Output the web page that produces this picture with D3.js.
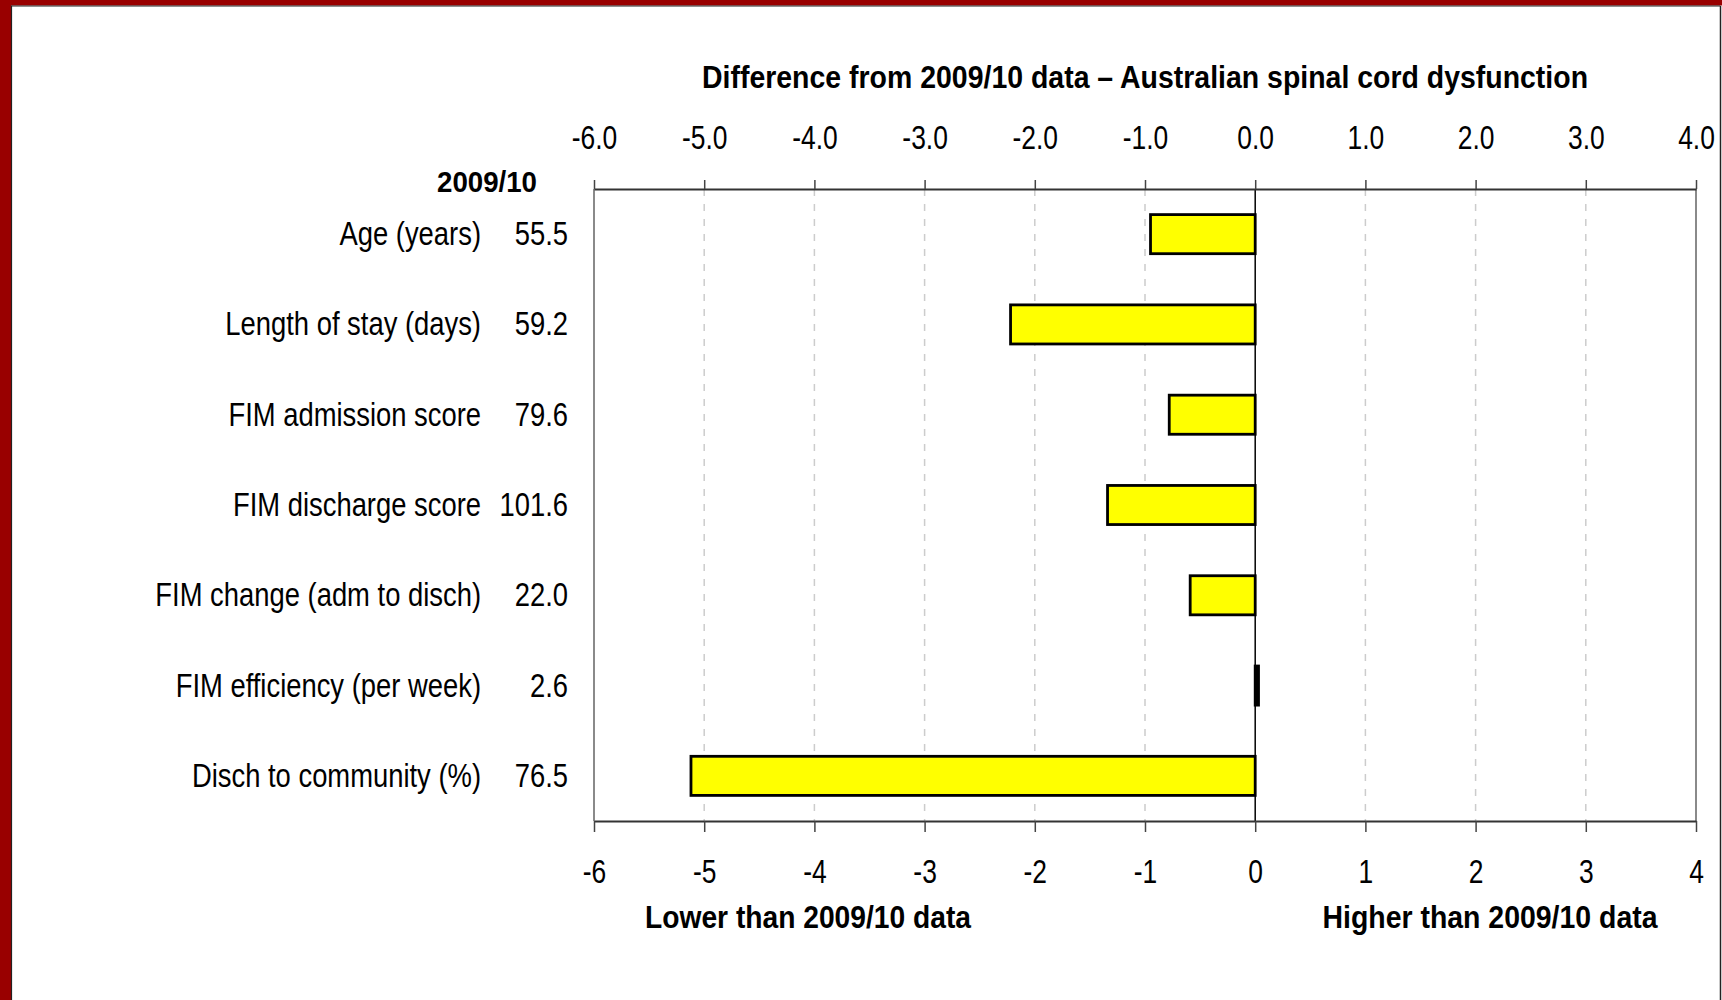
<!DOCTYPE html>
<html>
<head>
<meta charset="utf-8">
<script src="https://cdn.jsdelivr.net/npm/d3@7"></script>
<style>
  html, body { margin: 0; padding: 0; background: #fff; }
  svg { display: block; }
  text { font-family: "Liberation Sans", Arial, sans-serif; fill: #000; }
</style>
</head>
<body>
<svg width="1722" height="1000"></svg>
<script>
(function(d3) {
    "use strict";

var categories = [
    "Age (years)",
    "Length of stay (days)",
    "FIM admission score",
    "FIM discharge score",
    "FIM change (adm to disch)",
    "FIM efficiency (per week)",
    "Disch to community (%)"
];
var baseline = ["55.5", "59.2", "79.6", "101.6", "22.0", "2.6", "76.5"];
var differences = [-0.95, -2.22, -0.78, -1.34, -0.59, 0.03, -5.12];
var tickValues = [-6, -5, -4, -3, -2, -1, 0, 1, 2, 3, 4];

var svg = d3.select("svg"),
    width = +svg.attr("width"),
    height = +svg.attr("height"),
    plot = { left: 594, right: 1696, top: 189, bottom: 821 },
    fontSize = 33,
    squeeze = 0.8,
    labelSqueeze = 0.83,

    x = d3.scaleLinear().domain([-6, 4]).range([plot.left, plot.right]),
    y = d3.scaleBand().domain(categories).range([plot.top, plot.bottom])
        .paddingInner(0.567).paddingOuter(0.2835),

    rows = categories.map(function(c, i) {
        return { name: c, base: baseline[i], value: differences[i] };
    });

// hyphen instead of unicode minus, like the original
function fmt(spec) {
    var f = d3.format(spec);
    return function(v) { return f(v).replace("\u2212", "-"); };
}

// narrow text drawn at (px, py), squeezed horizontally
function narrowText(px, py, anchor, size, weight, str, k) {
    return svg.append("text")
        .attr("transform", "translate(" + px + "," + py + ") scale(" + (k || squeeze) + ",1)")
        .attr("text-anchor", anchor)
        .attr("font-size", size)
        .attr("font-weight", weight)
        .text(str);
}

// squeeze a bold heading to the width it has in the original
function fitWidth(t, px, py, w) {
    var len = t.node().getComputedTextLength();
    t.attr("transform", "translate(" + px + "," + py + ") scale(" + (w / len) + ",1)");
}

// slide frame
svg.append("rect").attr("x", 0).attr("y", 0).attr("width", width).attr("height", height).attr("fill", "#fff");
svg.append("rect").attr("x", 0).attr("y", 0).attr("width", width).attr("height", 5.5).attr("fill", "#990000");
svg.append("rect").attr("x", 0).attr("y", 0).attr("width", 11).attr("height", height).attr("fill", "#990000");
svg.append("line").attr("x1", 11.5).attr("x2", 11.5).attr("y1", 5.5).attr("y2", height)
    .attr("stroke", "#222").attr("stroke-width", 1.2);
svg.append("line").attr("x1", 11.5).attr("x2", 1720.5).attr("y1", 6).attr("y2", 6)
    .attr("stroke", "#222").attr("stroke-width", 1.2);
svg.append("line").attr("x1", 1720.5).attr("x2", 1720.5).attr("y1", 6).attr("y2", height)
    .attr("stroke", "#222").attr("stroke-width", 1.5);

// gridlines
svg.append("g")
    .selectAll("line")
    .data(tickValues.filter(function(t) { return t !== 0 && t !== -6 && t !== 4; }))
    .enter().append("line")
    .attr("x1", function(d) { return x(d); })
    .attr("x2", function(d) { return x(d); })
    .attr("y1", plot.top)
    .attr("y2", plot.bottom)
    .attr("stroke", "#cccccc")
    .attr("stroke-width", 1.5)
    .attr("stroke-dasharray", "7,8");

// plot frame sides
svg.append("line").attr("x1", plot.left).attr("x2", plot.left).attr("y1", plot.top).attr("y2", plot.bottom)
    .attr("stroke", "#8a8a8a").attr("stroke-width", 2);
svg.append("line").attr("x1", plot.right).attr("x2", plot.right).attr("y1", plot.top).attr("y2", plot.bottom)
    .attr("stroke", "#8a8a8a").attr("stroke-width", 2);

// bars
svg.append("g")
    .selectAll("rect")
    .data(rows)
    .enter().append("rect")
    .attr("x", function(d) { return x(Math.min(0, d.value)); })
    .attr("y", function(d) { return y(d.name); })
    .attr("width", function(d) { return Math.abs(x(d.value) - x(0)); })
    .attr("height", y.bandwidth())
    .attr("fill", function(d) { return Math.abs(d.value) < 0.1 ? "#000" : "#ffff00"; })
    .attr("stroke", "#000")
    .attr("stroke-width", 2.8);

// zero line
svg.append("line").attr("x1", x(0)).attr("x2", x(0)).attr("y1", plot.top).attr("y2", plot.bottom)
    .attr("stroke", "#000").attr("stroke-width", 1.5);

// axes
var topAxis = svg.append("g")
    .attr("transform", "translate(0," + plot.top + ")")
    .call(d3.axisTop(x).tickValues(tickValues).tickFormat(fmt(".1f"))
        .tickSizeInner(9).tickSizeOuter(0).tickPadding(31));

var bottomAxis = svg.append("g")
    .attr("transform", "translate(0," + plot.bottom + ")")
    .call(d3.axisBottom(x).tickValues(tickValues).tickFormat(fmt("d"))
        .tickSizeInner(11).tickSizeOuter(0).tickPadding(28));

[topAxis, bottomAxis].forEach(function(g) {
    g.select(".domain").attr("stroke", "#333").attr("stroke-width", 2);
    g.selectAll(".tick line").attr("stroke", "#444").attr("stroke-width", 1.5);
    g.selectAll(".tick text")
        .attr("font-size", fontSize)
        .attr("fill", "#000")
        .attr("transform", "scale(" + squeeze + ",1)")
        .style("font-family", "\"Liberation Sans\", Arial, sans-serif");
});

// row labels and 2009/10 values
rows.forEach(function(d) {
    var cy = y(d.name) + y.bandwidth() / 2 + 11;
    narrowText(481, cy, "end", fontSize, "normal", d.name, labelSqueeze);
    narrowText(568, cy, "end", fontSize, "normal", d.base, labelSqueeze);
});

fitWidth(narrowText(537, 192, "end", 30, "bold", "2009/10"), 537, 192, 100);

// titles
fitWidth(narrowText(1145, 88, "middle", 31, "bold",
    "Difference from 2009/10 data \u2013 Australian spinal cord dysfunction"), 1145, 88, 886);
fitWidth(narrowText(808, 928, "middle", 31, "bold", "Lower than 2009/10 data"), 808, 928, 326);
fitWidth(narrowText(1490, 928, "middle", 31, "bold", "Higher than 2009/10 data"), 1490, 928, 335);

}(d3));
</script>
</body>
</html>
